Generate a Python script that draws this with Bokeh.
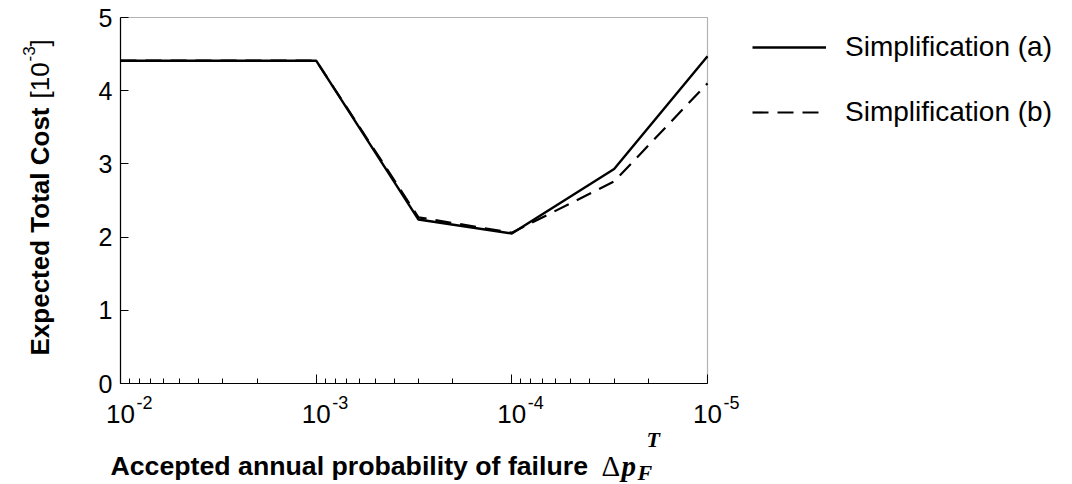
import math
from bokeh.plotting import figure
from bokeh.models import Range1d, FixedTicker, Label, Legend, LegendItem, BoxAnnotation
from bokeh.embed import file_html
from bokeh.resources import INLINE

# ---- data ----
prob = [1e-2, 1e-3, 3e-4, 1e-4, 3e-5, 1e-5]
cost_a = [4.41, 4.41, 2.24, 2.05, 2.93, 4.47]
cost_b = [4.41, 4.41, 2.27, 2.06, 2.76, 4.10]
x_major = [1e-2, 1e-3, 1e-4, 1e-5]
x_exp = ["-2", "-3", "-4", "-5"]
y_ticks = [0, 1, 2, 3, 4, 5]
name_a = "Simplification (a)"
name_b = "Simplification (b)"

SANS = "Liberation Sans"
SERIF = "Liberation Serif"

# ---- layout (pixels) ----
W, H = 1072, 484
BOX_L, BOX_R, BOX_T, BOX_B = 120, 707, 17, 383
X_LO, X_HI = 1e-2, 1e-5   # box x limits (reversed log axis)
Y_LO, Y_HI = 0, 5

dec_px = (BOX_R - BOX_L) / (math.log10(X_LO) - math.log10(X_HI))
x_start = 10 ** (math.log10(X_LO) + BOX_L / dec_px)
x_end = 10 ** (math.log10(X_HI) - (W - BOX_R) / dec_px)
unit_px = (BOX_B - BOX_T) / (Y_HI - Y_LO)
y_start = Y_LO - (H - BOX_B) / unit_px
y_end = Y_HI + BOX_T / unit_px

p = figure(width=W, height=H, output_backend="svg", toolbar_location=None,
           x_axis_type="log", x_range=Range1d(x_start, x_end), y_range=Range1d(y_start, y_end),
           min_border=0, min_border_left=0, min_border_right=0, min_border_top=0, min_border_bottom=0)
p.background_fill_color = "white"
p.border_fill_color = "white"
p.outline_line_color = None
p.grid.visible = False

minor = [d / 10 * k for d in x_major[:-1] for k in range(2, 10)]
xa = p.xaxis[0]
xa.fixed_location = Y_LO
xa.bounds = (X_HI, X_LO)
xa.ticker = FixedTicker(ticks=x_major, minor_ticks=minor)
xa.major_label_text_font_size = "0px"
xa.major_label_text_alpha = 0
xa.major_tick_in = 9
xa.major_tick_out = 0
xa.minor_tick_in = 5
xa.minor_tick_out = 0
xa.axis_line_color = "black"
xa.major_tick_line_color = "black"
xa.minor_tick_line_color = "black"
xa.axis_line_width = 1.2

ya = p.yaxis[0]
ya.fixed_location = X_LO
ya.bounds = (Y_LO, Y_HI)
ya.ticker = FixedTicker(ticks=y_ticks)
ya.major_tick_in = 8
ya.major_tick_out = 0
ya.minor_tick_line_color = None
ya.major_label_text_font = SANS
ya.major_label_text_font_size = "25px"
ya.major_label_text_color = "black"
ya.major_label_standoff = 8
ya.axis_line_color = "black"
ya.axis_line_width = 1.2

# plot box (top and right edges)
p.add_layout(BoxAnnotation(left=X_LO, right=X_HI, bottom=Y_LO, top=Y_HI,
                           fill_alpha=0, line_color="black", line_width=1.2, level="underlay"))

rb = p.line(prob, cost_b, line_color="black", line_width=2.2, line_dash="16 9")
ra = p.line(prob, cost_a, line_color="black", line_width=2.4)

# legend
leg = Legend(items=[LegendItem(label=name_a, renderers=[ra]),
                    LegendItem(label=name_b, renderers=[rb])],
             location=(752, H - 128), border_line_alpha=0, background_fill_alpha=0,
             glyph_width=74, glyph_height=32, label_height=32, spacing=33,
             label_standoff=19, padding=0, margin=0,
             label_text_font=SANS, label_text_font_size="28px", label_text_color="black")
p.add_layout(leg)


def lab(**kw):
    kw.setdefault("text_color", "black")
    kw.setdefault("text_baseline", "alphabetic")
    kw.setdefault("text_align", "left")
    kw.setdefault("y_units", "screen")
    kw.setdefault("x_units", "screen")
    p.add_layout(Label(**kw))


# x tick labels (10 with superscript exponent)
for t, e in zip(x_major, x_exp):
    lab(x=t, y=H - 413, x_units="data", text="10", text_font=SANS, text_font_size="26px",
        text_align="center")
    lab(x=t, y=H - 402, x_units="data", text=e, x_offset=16, text_font=SANS, text_font_size="18px")

# x axis title
ty = H - 465
lab(x=110, y=ty, text="Accepted annual probability of failure",
    text_font=SANS, text_font_size="26.7px", text_font_style="bold")
gx = 601
lab(x=gx, y=ty, text="\u0394", text_font=SERIF, text_font_size="29px")
lab(x=gx + 20, y=ty, text="p", text_font=SERIF, text_font_size="29px", text_font_style="bold italic")
lab(x=gx + 36, y=ty - 7, text="F", text_font=SERIF, text_font_size="22px", text_font_style="bold italic")
lab(x=gx + 45, y=ty + 26, text="T", text_font=SERIF, text_font_size="22px", text_font_style="bold italic")

# y axis title (rotated)
ang = math.pi / 2
bx = 39
by = H - 355
lab(x=bx, y=by, text="Expected Total Cost", angle=ang,
    text_font=SANS, text_font_size="26px", text_font_style="bold")
lab(x=bx, y=by + 257, text="[10", angle=ang, text_font=SANS, text_font_size="26px")
lab(x=bx - 11, y=by + 257 + 37, text="-3", angle=ang, text_font=SANS, text_font_size="17px")
lab(x=bx, y=by + 257 + 37 + 15, text="]", angle=ang, text_font=SANS, text_font_size="26px")

open("out.html", "w").write(file_html(p, INLINE))
